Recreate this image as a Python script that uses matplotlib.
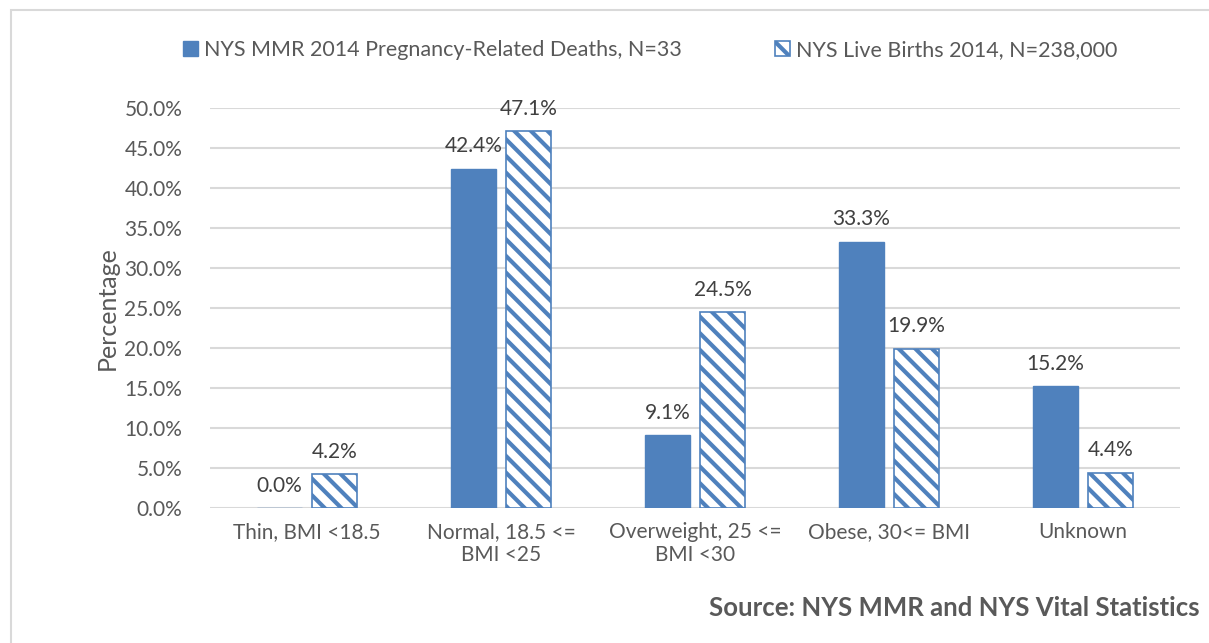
import matplotlib
matplotlib.use("Agg")
import matplotlib.pyplot as plt
import numpy as np
from matplotlib.patches import Rectangle

categories = ["Thin, BMI <18.5", "Normal, 18.5 <=\nBMI <25", "Overweight, 25 <=\nBMI <30",
              "Obese, 30<= BMI", "Unknown"]
deaths = [0.0, 42.4, 9.1, 33.3, 15.2]
births = [4.2, 47.1, 24.5, 19.9, 4.4]
series_names = ["NYS MMR 2014 Pregnancy-Related Deaths, N=33", "NYS Live Births 2014, N=238,000"]
yticks = [0, 5, 10, 15, 20, 25, 30, 35, 40, 45, 50]

BLUE = "#4F81BD"
GRAY = "#595959"
plt.rcParams['font.family'] = ['Lato', 'DejaVu Sans']
plt.rcParams['hatch.linewidth'] = 3.0
plt.rcParams['hatch.color'] = BLUE

fig = plt.figure(figsize=(12.09, 6.43), dpi=100)
ax = fig.add_axes([210/1209, 1-508/643, (1180-210)/1209, 400/643])

# outer border
fig.patches.append(Rectangle((11/1209, -0.05), 1.1, 1-10/643+0.05, transform=fig.transFigure,
                             fill=False, edgecolor="#d9d9d9", linewidth=1.5))

x = np.arange(len(categories))
w = 0.232
off = 0.142
b1 = ax.bar(x - off, deaths, w, color=BLUE, edgecolor=BLUE, linewidth=1, label=series_names[0])
b2 = ax.bar(x + off, births, w, color="white", edgecolor=BLUE, hatch="\\\\", linewidth=1.2,
            label=series_names[1])

for bars, vals in ((b1, deaths), (b2, births)):
    for r, v in zip(bars, vals):
        ax.annotate(f"{v:.1f}%", (r.get_x() + r.get_width()/2, v), xytext=(0, 9),
                    textcoords="offset points", ha="center", va="bottom", fontsize=15, color="#404040")

ax.set_ylim(0, 50)
ax.set_xlim(-0.5, len(categories) - 0.5)
ax.set_yticks(yticks)
ax.set_yticklabels([f"{t:.1f}%" for t in yticks])
ax.set_xticks(x)
ax.set_xticklabels(categories)
ax.tick_params(axis='both', length=0, labelsize=15, colors=GRAY, pad=10)
ax.tick_params(axis='y', pad=20)
ax.grid(axis='y', color="#d9d9d9", linewidth=1.5)
ax.set_axisbelow(True)
for s in ax.spines.values():
    s.set_visible(False)
ax.set_ylabel("Percentage", fontsize=18, color=GRAY, labelpad=4)

fig.legend(handles=[b1, b2], labels=series_names, loc="center", bbox_to_anchor=(650/1209, 1-50/643),
           ncol=2, frameon=False, fontsize=15.5, labelcolor=GRAY, columnspacing=4.3,
           handlelength=0.7, handleheight=0.7, handletextpad=0.3)

fig.text(1200/1209, 1-608/643, "Source: NYS MMR and NYS Vital Statistics", ha="right", va="center",
         fontsize=18.5, fontweight="bold", color=GRAY)

fig.savefig("out.png", dpi=100)
